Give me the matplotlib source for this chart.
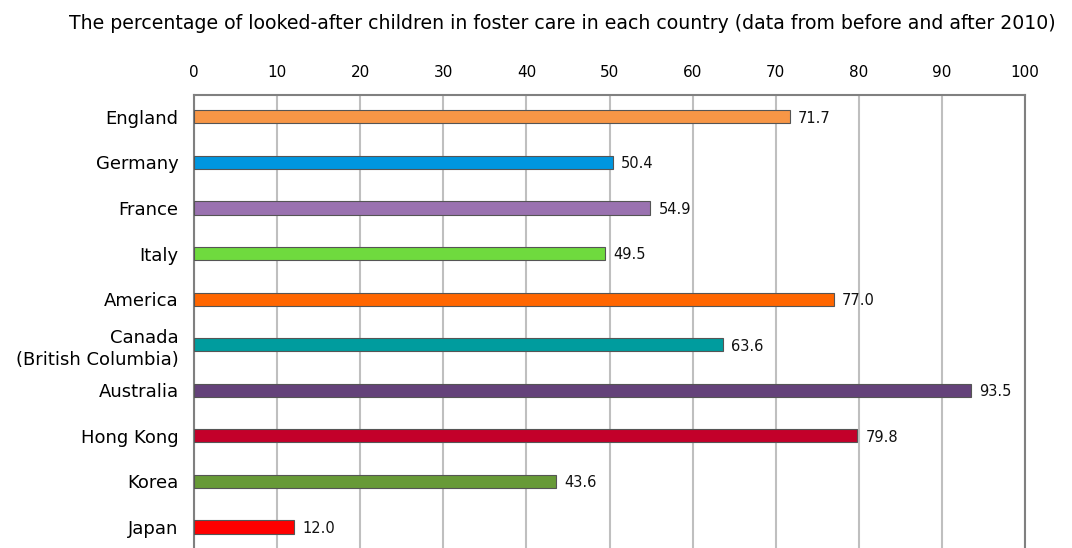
import matplotlib.pyplot as plt
import matplotlib

matplotlib.rcParams['font.family'] = ['DejaVu Sans']

countries = ['England', 'Germany', 'France', 'Italy', 'America',
             'Canada\n(British Columbia)', 'Australia', 'Hong Kong', 'Korea', 'Japan']
values = [71.7, 50.4, 54.9, 49.5, 77.0, 63.6, 93.5, 79.8, 43.6, 12.0]
colors = ['#F79646', '#0096DF', '#9A72B0', '#6FDA3E', '#FF6600',
          '#009C9E', '#64427A', '#C3002A', '#679A37', '#FF0000']
xticks = [0, 10, 20, 30, 40, 50, 60, 70, 80, 90, 100]
title = 'The percentage of looked-after children in foster care in each country (data from before and after 2010)'

fig = plt.figure(figsize=(10.72, 5.48), dpi=100)
ax = fig.add_axes([194 / 1072, 0.0, (1025 - 194) / 1072, 1 - 95 / 548])

pos = list(range(len(countries)))
ax.barh(pos, values, height=0.29, color=colors, edgecolor='#555555', linewidth=0.8, zorder=3)
for p, v in zip(pos, values):
    ax.annotate(f'{v:.1f}', (v, p), xytext=(6, -1), textcoords='offset points',
                va='center', ha='left', fontsize=10.5, color='#111111')

ax.set_xlim(0, 100)
ax.set_ylim(9.46, -0.48)
ax.set_xticks(xticks)
ax.xaxis.tick_top()
ax.tick_params(axis='x', length=0, pad=11, labelsize=11)
ax.set_yticks(pos)
ax.set_yticklabels(countries, fontsize=13, linespacing=1.3)
ax.tick_params(axis='y', length=0, pad=11)
ax.grid(axis='x', color='#BFBFBF', linewidth=1.5, zorder=0)

for s in ['top', 'right', 'left']:
    ax.spines[s].set_color('#808080')
    ax.spines[s].set_linewidth(1.5)
ax.spines['bottom'].set_visible(False)

fig.text(0.5247, 0.958, title, ha='center', va='center', fontsize=13.6)

plt.savefig('out.png', dpi=100)
